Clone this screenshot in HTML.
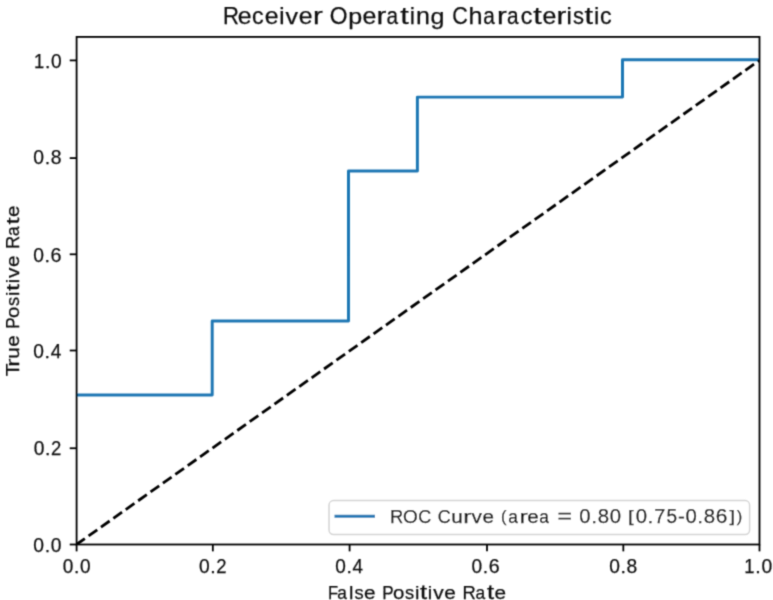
<!DOCTYPE html>
<html><head><meta charset="utf-8"><style>
html,body{margin:0;padding:0;background:#fff;width:773px;height:600px;overflow:hidden;}
svg{display:block;}
text{font-family:"Liberation Sans", sans-serif;fill:#111;stroke:#111;stroke-width:0.25px;white-space:pre;}
</style></head><body>
<svg width="773" height="600" viewBox="0 0 773 600">
<defs><filter id="bl" x="0" y="0" width="773" height="600" filterUnits="userSpaceOnUse"><feConvolveMatrix order="3" kernelMatrix="1 4 1 4 16 4 1 4 1" divisor="36" preserveAlpha="false"/></filter></defs>
<rect x="0" y="0" width="773" height="600" fill="#fff"/>
<g filter="url(#bl)">
<clipPath id="ax"><rect x="76.6" y="36.9" width="682.90" height="507.60"/></clipPath>
<g clip-path="url(#ax)">
<path d="M76.60,395.00 L212.20,395.00 L212.20,321.00 L348.50,321.00 L348.50,171.00 L417.40,171.00 L417.40,97.10 L622.50,97.10 L622.50,59.80 L759.50,59.80" fill="none" stroke="#1f77b4" stroke-width="2.95" stroke-linejoin="round" stroke-linecap="square"/>
<path d="M76.6,544.4 L759.5,60.3" fill="none" stroke="#000" stroke-width="2.8" stroke-dasharray="10.6 4.59" stroke-dashoffset="0.5" stroke-linecap="butt"/>
</g>
<rect x="76.60" y="36.90" width="682.90" height="507.60" fill="none" stroke="#000" stroke-width="1.8" stroke-linejoin="miter"/>
<line x1="76.60" y1="544.50" x2="76.60" y2="551.37" stroke="#000" stroke-width="1.8"/>
<line x1="212.83" y1="544.50" x2="212.83" y2="551.37" stroke="#000" stroke-width="1.8"/>
<line x1="349.60" y1="544.50" x2="349.60" y2="551.37" stroke="#000" stroke-width="1.8"/>
<line x1="487.00" y1="544.50" x2="487.00" y2="551.37" stroke="#000" stroke-width="1.8"/>
<line x1="623.33" y1="544.50" x2="623.33" y2="551.37" stroke="#000" stroke-width="1.8"/>
<line x1="759.50" y1="544.50" x2="759.50" y2="551.37" stroke="#000" stroke-width="1.8"/>
<line x1="76.60" y1="544.50" x2="69.73" y2="544.50" stroke="#000" stroke-width="1.8"/>
<line x1="76.60" y1="448.25" x2="69.73" y2="448.25" stroke="#000" stroke-width="1.8"/>
<line x1="76.60" y1="350.50" x2="69.73" y2="350.50" stroke="#000" stroke-width="1.8"/>
<line x1="76.60" y1="254.30" x2="69.73" y2="254.30" stroke="#000" stroke-width="1.8"/>
<line x1="76.60" y1="158.10" x2="69.73" y2="158.10" stroke="#000" stroke-width="1.8"/>
<line x1="76.60" y1="60.40" x2="69.73" y2="60.40" stroke="#000" stroke-width="1.8"/>
<text y="573.00"><tspan x="62.74" y="573.00" font-size="20.04" textLength="10.60" lengthAdjust="spacingAndGlyphs">0</tspan><tspan x="73.94" y="573.00" font-size="19.04" textLength="5.40" lengthAdjust="spacingAndGlyphs">.</tspan><tspan x="79.94" y="573.00" font-size="20.04" textLength="10.60" lengthAdjust="spacingAndGlyphs">0</tspan></text>
<text y="573.00"><tspan x="198.93" y="573.00" font-size="20.04" textLength="10.70" lengthAdjust="spacingAndGlyphs">0</tspan><tspan x="210.23" y="573.00" font-size="19.04" textLength="5.45" lengthAdjust="spacingAndGlyphs">.</tspan><tspan x="216.26" y="573.00" font-size="19.93" textLength="10.28" lengthAdjust="spacingAndGlyphs">2</tspan></text>
<text y="573.00"><tspan x="335.34" y="573.00" font-size="20.04" textLength="10.57" lengthAdjust="spacingAndGlyphs">0</tspan><tspan x="346.50" y="573.00" font-size="19.04" textLength="5.39" lengthAdjust="spacingAndGlyphs">.</tspan><tspan x="352.55" y="573.00" font-size="19.88" textLength="10.49" lengthAdjust="spacingAndGlyphs">4</tspan></text>
<text y="573.00"><tspan x="471.54" y="573.00" font-size="20.04" textLength="10.62" lengthAdjust="spacingAndGlyphs">0</tspan><tspan x="482.76" y="573.00" font-size="19.04" textLength="5.41" lengthAdjust="spacingAndGlyphs">.</tspan><tspan x="488.64" y="573.00" font-size="20.04" textLength="10.91" lengthAdjust="spacingAndGlyphs">6</tspan></text>
<text y="573.00"><tspan x="609.33" y="573.00" font-size="20.04" textLength="10.66" lengthAdjust="spacingAndGlyphs">0</tspan><tspan x="620.59" y="573.00" font-size="19.04" textLength="5.43" lengthAdjust="spacingAndGlyphs">.</tspan><tspan x="626.62" y="573.00" font-size="20.04" textLength="10.72" lengthAdjust="spacingAndGlyphs">8</tspan></text>
<text y="573.00"><tspan x="744.22" y="573.00" font-size="19.88" textLength="10.21" lengthAdjust="spacingAndGlyphs">1</tspan><tspan x="755.34" y="573.00" font-size="19.04" textLength="5.47" lengthAdjust="spacingAndGlyphs">.</tspan><tspan x="761.41" y="573.00" font-size="20.04" textLength="10.73" lengthAdjust="spacingAndGlyphs">0</tspan></text>
<text y="552.00"><tspan x="33.33" y="552.00" font-size="20.04" textLength="10.72" lengthAdjust="spacingAndGlyphs">0</tspan><tspan x="44.65" y="552.00" font-size="19.04" textLength="5.47" lengthAdjust="spacingAndGlyphs">.</tspan><tspan x="50.72" y="552.00" font-size="20.04" textLength="10.72" lengthAdjust="spacingAndGlyphs">0</tspan></text>
<text y="455.00"><tspan x="33.63" y="455.00" font-size="20.04" textLength="10.70" lengthAdjust="spacingAndGlyphs">0</tspan><tspan x="44.93" y="455.00" font-size="19.04" textLength="5.45" lengthAdjust="spacingAndGlyphs">.</tspan><tspan x="50.96" y="455.00" font-size="19.93" textLength="10.28" lengthAdjust="spacingAndGlyphs">2</tspan></text>
<text y="358.00"><tspan x="33.33" y="358.00" font-size="20.04" textLength="10.65" lengthAdjust="spacingAndGlyphs">0</tspan><tspan x="44.58" y="358.00" font-size="19.04" textLength="5.43" lengthAdjust="spacingAndGlyphs">.</tspan><tspan x="50.68" y="358.00" font-size="19.88" textLength="10.57" lengthAdjust="spacingAndGlyphs">4</tspan></text>
<text y="262.00"><tspan x="33.33" y="262.00" font-size="20.04" textLength="10.70" lengthAdjust="spacingAndGlyphs">0</tspan><tspan x="44.64" y="262.00" font-size="19.04" textLength="5.46" lengthAdjust="spacingAndGlyphs">.</tspan><tspan x="50.57" y="262.00" font-size="20.04" textLength="11.00" lengthAdjust="spacingAndGlyphs">6</tspan></text>
<text y="164.00"><tspan x="33.33" y="164.00" font-size="20.04" textLength="10.74" lengthAdjust="spacingAndGlyphs">0</tspan><tspan x="44.67" y="164.00" font-size="19.04" textLength="5.47" lengthAdjust="spacingAndGlyphs">.</tspan><tspan x="50.74" y="164.00" font-size="20.04" textLength="10.80" lengthAdjust="spacingAndGlyphs">8</tspan></text>
<text y="68.00"><tspan x="34.03" y="68.00" font-size="19.88" textLength="10.13" lengthAdjust="spacingAndGlyphs">1</tspan><tspan x="45.07" y="68.00" font-size="19.04" textLength="5.43" lengthAdjust="spacingAndGlyphs">.</tspan><tspan x="51.09" y="68.00" font-size="20.04" textLength="10.65" lengthAdjust="spacingAndGlyphs">0</tspan></text>
<text y="599.00"><tspan x="327.95" y="599.00" font-size="19.09" textLength="10.12" lengthAdjust="spacingAndGlyphs">F</tspan><tspan x="337.15" y="599.00" font-size="18.88" textLength="9.65" lengthAdjust="spacingAndGlyphs">a</tspan><tspan x="349.01" y="599.00" font-size="18.84" textLength="4.39" lengthAdjust="spacingAndGlyphs">l</tspan><tspan x="354.41" y="599.00" font-size="18.88" textLength="9.17" lengthAdjust="spacingAndGlyphs">s</tspan><tspan x="364.05" y="599.00" font-size="18.88" textLength="11.55" lengthAdjust="spacingAndGlyphs">e</tspan><tspan x="375.70"> </tspan><tspan x="382.28" y="599.00" font-size="19.09" textLength="11.38" lengthAdjust="spacingAndGlyphs">P</tspan><tspan x="392.91" y="599.00" font-size="18.88" textLength="11.37" lengthAdjust="spacingAndGlyphs">o</tspan><tspan x="405.04" y="599.00" font-size="18.88" textLength="9.17" lengthAdjust="spacingAndGlyphs">s</tspan><tspan x="414.99" y="599.00" font-size="18.84" textLength="4.39" lengthAdjust="spacingAndGlyphs">i</tspan><tspan x="419.99" y="599.00" font-size="19.35" textLength="7.12" lengthAdjust="spacingAndGlyphs">t</tspan><tspan x="427.87" y="599.00" font-size="18.84" textLength="4.39" lengthAdjust="spacingAndGlyphs">i</tspan><tspan x="433.19" y="599.00" font-size="18.66" textLength="10.45" lengthAdjust="spacingAndGlyphs">v</tspan><tspan x="444.27" y="599.00" font-size="18.88" textLength="11.55" lengthAdjust="spacingAndGlyphs">e</tspan><tspan x="455.93"> </tspan><tspan x="462.39" y="599.00" font-size="19.09" textLength="13.30" lengthAdjust="spacingAndGlyphs">R</tspan><tspan x="475.39" y="599.00" font-size="18.88" textLength="9.65" lengthAdjust="spacingAndGlyphs">a</tspan><tspan x="486.90" y="599.00" font-size="19.35" textLength="7.12" lengthAdjust="spacingAndGlyphs">t</tspan><tspan x="494.47" y="599.00" font-size="18.88" textLength="11.55" lengthAdjust="spacingAndGlyphs">e</tspan></text>
<text transform="rotate(-90)" y="19.00"><tspan x="-376.34" y="19.00" font-size="19.00" textLength="12.77" lengthAdjust="spacingAndGlyphs">T</tspan><tspan x="-366.87" y="19.00" font-size="18.64" textLength="8.16" lengthAdjust="spacingAndGlyphs">r</tspan><tspan x="-358.79" y="19.00" font-size="18.72" textLength="11.46" lengthAdjust="spacingAndGlyphs">u</tspan><tspan x="-346.77" y="19.00" font-size="18.79" textLength="11.49" lengthAdjust="spacingAndGlyphs">e</tspan><tspan x="-335.18"> </tspan><tspan x="-328.63" y="19.00" font-size="19.00" textLength="11.32" lengthAdjust="spacingAndGlyphs">P</tspan><tspan x="-318.05" y="19.00" font-size="18.79" textLength="11.32" lengthAdjust="spacingAndGlyphs">o</tspan><tspan x="-305.98" y="19.00" font-size="18.79" textLength="9.13" lengthAdjust="spacingAndGlyphs">s</tspan><tspan x="-296.07" y="19.00" font-size="18.75" textLength="4.37" lengthAdjust="spacingAndGlyphs">i</tspan><tspan x="-291.10" y="19.00" font-size="19.26" textLength="7.09" lengthAdjust="spacingAndGlyphs">t</tspan><tspan x="-283.25" y="19.00" font-size="18.75" textLength="4.37" lengthAdjust="spacingAndGlyphs">i</tspan><tspan x="-277.95" y="19.00" font-size="18.57" textLength="10.40" lengthAdjust="spacingAndGlyphs">v</tspan><tspan x="-266.92" y="19.00" font-size="18.79" textLength="11.49" lengthAdjust="spacingAndGlyphs">e</tspan><tspan x="-255.33"> </tspan><tspan x="-248.89" y="19.00" font-size="19.00" textLength="13.24" lengthAdjust="spacingAndGlyphs">R</tspan><tspan x="-235.95" y="19.00" font-size="18.79" textLength="9.60" lengthAdjust="spacingAndGlyphs">a</tspan><tspan x="-224.50" y="19.00" font-size="19.26" textLength="7.09" lengthAdjust="spacingAndGlyphs">t</tspan><tspan x="-216.96" y="19.00" font-size="18.79" textLength="11.49" lengthAdjust="spacingAndGlyphs">e</tspan></text>
<text y="24.00"><tspan x="223.05" y="24.00" font-size="23.49" textLength="15.94" lengthAdjust="spacingAndGlyphs">R</tspan><tspan x="237.80" y="24.00" font-size="23.23" textLength="13.84" lengthAdjust="spacingAndGlyphs">e</tspan><tspan x="252.05" y="24.00" font-size="23.23" textLength="11.59" lengthAdjust="spacingAndGlyphs">c</tspan><tspan x="264.65" y="24.00" font-size="23.23" textLength="13.84" lengthAdjust="spacingAndGlyphs">e</tspan><tspan x="279.20" y="24.00" font-size="23.19" textLength="5.27" lengthAdjust="spacingAndGlyphs">i</tspan><tspan x="285.58" y="24.00" font-size="22.96" textLength="12.52" lengthAdjust="spacingAndGlyphs">v</tspan><tspan x="298.86" y="24.00" font-size="23.23" textLength="13.84" lengthAdjust="spacingAndGlyphs">e</tspan><tspan x="312.91" y="24.00" font-size="23.05" textLength="9.82" lengthAdjust="spacingAndGlyphs">r</tspan><tspan x="322.30"> </tspan><tspan x="329.81" y="24.00" font-size="23.68" textLength="17.73" lengthAdjust="spacingAndGlyphs">O</tspan><tspan x="348.20" y="24.00" font-size="22.79" textLength="13.95" lengthAdjust="spacingAndGlyphs">p</tspan><tspan x="362.60" y="24.00" font-size="23.23" textLength="13.84" lengthAdjust="spacingAndGlyphs">e</tspan><tspan x="376.64" y="24.00" font-size="23.05" textLength="9.82" lengthAdjust="spacingAndGlyphs">r</tspan><tspan x="386.53" y="24.00" font-size="23.23" textLength="11.56" lengthAdjust="spacingAndGlyphs">a</tspan><tspan x="400.33" y="24.00" font-size="23.81" textLength="8.54" lengthAdjust="spacingAndGlyphs">t</tspan><tspan x="409.78" y="24.00" font-size="23.19" textLength="5.27" lengthAdjust="spacingAndGlyphs">i</tspan><tspan x="415.97" y="24.00" font-size="23.05" textLength="13.95" lengthAdjust="spacingAndGlyphs">n</tspan><tspan x="430.40" y="24.00" font-size="22.79" textLength="13.95" lengthAdjust="spacingAndGlyphs">g</tspan><tspan x="444.82"> </tspan><tspan x="452.34" y="24.00" font-size="23.68" textLength="15.52" lengthAdjust="spacingAndGlyphs">C</tspan><tspan x="468.54" y="24.00" font-size="23.19" textLength="14.04" lengthAdjust="spacingAndGlyphs">h</tspan><tspan x="483.33" y="24.00" font-size="23.23" textLength="11.56" lengthAdjust="spacingAndGlyphs">a</tspan><tspan x="497.04" y="24.00" font-size="23.05" textLength="9.82" lengthAdjust="spacingAndGlyphs">r</tspan><tspan x="506.93" y="24.00" font-size="23.23" textLength="11.56" lengthAdjust="spacingAndGlyphs">a</tspan><tspan x="520.83" y="24.00" font-size="23.23" textLength="11.59" lengthAdjust="spacingAndGlyphs">c</tspan><tspan x="533.39" y="24.00" font-size="23.81" textLength="8.54" lengthAdjust="spacingAndGlyphs">t</tspan><tspan x="542.46" y="24.00" font-size="23.23" textLength="13.84" lengthAdjust="spacingAndGlyphs">e</tspan><tspan x="556.51" y="24.00" font-size="23.05" textLength="9.82" lengthAdjust="spacingAndGlyphs">r</tspan><tspan x="566.49" y="24.00" font-size="23.19" textLength="5.27" lengthAdjust="spacingAndGlyphs">i</tspan><tspan x="572.96" y="24.00" font-size="23.23" textLength="10.99" lengthAdjust="spacingAndGlyphs">s</tspan><tspan x="584.48" y="24.00" font-size="23.81" textLength="8.54" lengthAdjust="spacingAndGlyphs">t</tspan><tspan x="593.93" y="24.00" font-size="23.19" textLength="5.27" lengthAdjust="spacingAndGlyphs">i</tspan><tspan x="600.02" y="24.00" font-size="23.23" textLength="11.59" lengthAdjust="spacingAndGlyphs">c</tspan></text>
<rect x="329.05" y="500.6" width="420.55" height="33.9" rx="4.5" ry="4.5" fill="#fff" fill-opacity="0.8" stroke="#d4d4d4" stroke-width="1.5"/>
<line x1="334.5" y1="516.2" x2="375" y2="516.2" stroke="#1f77b4" stroke-width="2.95"/>
<text y="522.90"><tspan x="389.90" y="522.90" font-size="19.07" textLength="13.28" lengthAdjust="spacingAndGlyphs">R</tspan><tspan x="403.05" y="522.90" font-size="19.23" textLength="14.77" lengthAdjust="spacingAndGlyphs">O</tspan><tspan x="418.17" y="522.90" font-size="19.23" textLength="12.94" lengthAdjust="spacingAndGlyphs">C</tspan><tspan x="431.42"> </tspan><tspan x="437.69" y="522.90" font-size="19.23" textLength="12.94" lengthAdjust="spacingAndGlyphs">C</tspan><tspan x="451.22" y="522.90" font-size="18.79" textLength="11.50" lengthAdjust="spacingAndGlyphs">u</tspan><tspan x="463.18" y="522.90" font-size="18.71" textLength="8.19" lengthAdjust="spacingAndGlyphs">r</tspan><tspan x="471.48" y="522.90" font-size="18.64" textLength="10.44" lengthAdjust="spacingAndGlyphs">v</tspan><tspan x="482.54" y="522.90" font-size="18.86" textLength="11.53" lengthAdjust="spacingAndGlyphs">e</tspan><tspan x="494.18"> </tspan><tspan x="500.89" y="521.68" font-size="17.14" textLength="5.48" lengthAdjust="spacingAndGlyphs">(</tspan><tspan x="508.20" y="522.90" font-size="18.86" textLength="9.64" lengthAdjust="spacingAndGlyphs">a</tspan><tspan x="519.62" y="522.90" font-size="18.71" textLength="8.19" lengthAdjust="spacingAndGlyphs">r</tspan><tspan x="527.20" y="522.90" font-size="18.86" textLength="11.53" lengthAdjust="spacingAndGlyphs">e</tspan><tspan x="539.26" y="522.90" font-size="18.86" textLength="9.64" lengthAdjust="spacingAndGlyphs">a</tspan><tspan x="550.61"> </tspan><tspan x="557.49" y="522.20" font-size="19.04" textLength="14.51" lengthAdjust="spacingAndGlyphs">=</tspan><tspan x="572.81"> </tspan><tspan x="579.35" y="522.90" font-size="20.05" textLength="11.30" lengthAdjust="spacingAndGlyphs">0</tspan><tspan x="591.28" y="522.90" font-size="19.04" textLength="5.76" lengthAdjust="spacingAndGlyphs">.</tspan><tspan x="597.66" y="522.90" font-size="20.05" textLength="11.36" lengthAdjust="spacingAndGlyphs">8</tspan><tspan x="609.89" y="522.90" font-size="20.05" textLength="11.30" lengthAdjust="spacingAndGlyphs">0</tspan><tspan x="621.67"> </tspan><tspan x="627.95" y="521.71" font-size="17.19" textLength="5.61" lengthAdjust="spacingAndGlyphs">[</tspan><tspan x="635.71" y="522.90" font-size="20.05" textLength="11.30" lengthAdjust="spacingAndGlyphs">0</tspan><tspan x="647.64" y="522.90" font-size="19.04" textLength="5.76" lengthAdjust="spacingAndGlyphs">.</tspan><tspan x="654.14" y="522.90" font-size="19.88" textLength="11.04" lengthAdjust="spacingAndGlyphs">7</tspan><tspan x="666.54" y="522.90" font-size="20.00" textLength="10.63" lengthAdjust="spacingAndGlyphs">5</tspan><tspan x="678.06" y="522.90" font-size="19.04" textLength="6.92" lengthAdjust="spacingAndGlyphs">-</tspan><tspan x="685.40" y="522.90" font-size="20.05" textLength="11.30" lengthAdjust="spacingAndGlyphs">0</tspan><tspan x="697.33" y="522.90" font-size="19.04" textLength="5.76" lengthAdjust="spacingAndGlyphs">.</tspan><tspan x="703.72" y="522.90" font-size="20.05" textLength="11.36" lengthAdjust="spacingAndGlyphs">8</tspan><tspan x="715.81" y="522.90" font-size="20.05" textLength="11.61" lengthAdjust="spacingAndGlyphs">6</tspan><tspan x="729.45" y="521.71" font-size="17.19" textLength="5.54" lengthAdjust="spacingAndGlyphs">]</tspan><tspan x="736.63" y="521.68" font-size="17.14" textLength="5.48" lengthAdjust="spacingAndGlyphs">)</tspan></text>
</g>
</svg>
</body></html>
